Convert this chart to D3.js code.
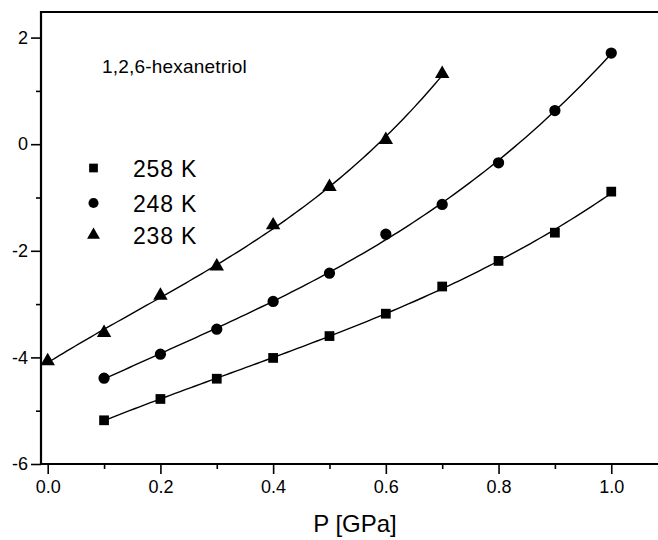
<!DOCTYPE html>
<html>
<head>
<meta charset="utf-8">
<script src="https://cdn.jsdelivr.net/npm/d3@7"></script>
<style>
  html, body { margin: 0; padding: 0; background: #fff; }
  svg { display: block; font-family: "Liberation Sans", Arial, sans-serif; }
</style>
</head>
<body>
<svg id="chart" width="658" height="540"></svg>
<script>
// Pressure (GPa) for each series
const pressure238 = [0.0, 0.1, 0.2, 0.3, 0.4, 0.5, 0.6, 0.7];
const pressure248 = [0.1, 0.2, 0.3, 0.4, 0.5, 0.6, 0.7, 0.8, 0.9, 1.0];
const pressure258 = [0.1, 0.2, 0.3, 0.4, 0.5, 0.6, 0.7, 0.8, 0.9, 1.0];

// log relaxation time values per isotherm
const values238 = [-4.07, -3.54, -2.84, -2.29, -1.52, -0.80, 0.08, 1.32];
const values248 = [-4.39, -3.94, -3.47, -2.95, -2.42, -1.69, -1.13, -0.35, 0.63, 1.71];
const values258 = [-5.18, -4.78, -4.40, -4.01, -3.60, -3.18, -2.67, -2.19, -1.66, -0.89];

const seriesLabels = ["258 K", "248 K", "238 K"];
const seriesSymbols = ["square", "circle", "triangle"];
const xTickValues = [0.0, 0.2, 0.4, 0.6, 0.8, 1.0];
const xMinorTicks = [0.1, 0.3, 0.5, 0.7, 0.9];
const yTickValues = [-6, -4, -2, 0, 2];
const yMinorTicks = [-5, -3, -1, 1];
const sampleName = "1,2,6-hexanetriol";
const xAxisTitle = "P [GPa]";

const series = [
  { label: seriesLabels[0], symbol: seriesSymbols[0], x: pressure258, y: values258 },
  { label: seriesLabels[1], symbol: seriesSymbols[1], x: pressure248, y: values248 },
  { label: seriesLabels[2], symbol: seriesSymbols[2], x: pressure238, y: values238 }
];

const svg = d3.select("#chart");
const plotLeft = 41, plotTop = 12, plotBottom = 464, plotRight = 660;

const x = d3.scaleLinear().domain([-0.0119, 1.0865]).range([plotLeft, plotRight]);
const y = d3.scaleLinear().domain([-6, 2.48]).range([plotBottom, plotTop]);

// polynomial least-squares fit (normal equations, Gaussian elimination)
function polyFit(xs, ys, deg) {
  const n = deg + 1;
  const A = d3.range(n).map(() => new Array(n + 1).fill(0));
  xs.forEach((xi, i) => {
    for (let r = 0; r < n; r++) {
      for (let c = 0; c < n; c++) A[r][c] += Math.pow(xi, r + c);
      A[r][n] += Math.pow(xi, r) * ys[i];
    }
  });
  for (let c = 0; c < n; c++) {
    for (let r = c + 1; r < n; r++) {
      const f = A[r][c] / A[c][c];
      for (let k = c; k <= n; k++) A[r][k] -= f * A[c][k];
    }
  }
  const b = new Array(n).fill(0);
  for (let r = n - 1; r >= 0; r--) {
    let s = A[r][n];
    for (let k = r + 1; k < n; k++) s -= A[r][k] * b[k];
    b[r] = s / A[r][r];
  }
  return t => b.reduce((acc, bk, k) => acc + bk * Math.pow(t, k), 0);
}

// fitted curves
const line = d3.line().x(d => x(d[0])).y(d => y(d[1]));
series.forEach(s => {
  const f = polyFit(s.x, s.y, 3);
  const x0 = d3.min(s.x), x1 = d3.max(s.x);
  const pts = d3.range(0, 101).map(i => { const t = x0 + (x1 - x0) * i / 100; return [t, f(t)]; });
  svg.append("path").attr("d", line(pts))
    .attr("fill", "none").attr("stroke", "#000").attr("stroke-width", 1.4);
});

// symbols
const symbolType = { square: d3.symbolSquare, circle: d3.symbolCircle, triangle: d3.symbolTriangle };
const symbolSize = { square: 95, circle: 100, triangle: 90 };
series.forEach(s => {
  svg.append("g").selectAll("path").data(s.x.map((xi, i) => [xi, s.y[i]]))
    .join("path")
    .attr("transform", d => `translate(${x(d[0])},${y(d[1])})`)
    .attr("d", d3.symbol().type(symbolType[s.symbol]).size(symbolSize[s.symbol]))
    .attr("fill", "#000");
});

// axes
const styleAxis = g => {
  g.select(".domain").remove();
  g.selectAll("text").attr("font-size", 18).attr("font-family", "Liberation Sans, Arial, sans-serif").attr("fill", "#000");
  g.selectAll("line").attr("stroke-width", 1.6).attr("stroke", "#000");
};
svg.append("g").attr("transform", `translate(0,${plotBottom})`)
  .call(d3.axisBottom(x).tickValues(xTickValues).tickFormat(d3.format(".1f")).tickSize(10).tickPadding(6))
  .call(styleAxis);
svg.append("g").attr("transform", `translate(0,${plotBottom})`)
  .call(d3.axisBottom(x).tickValues(xMinorTicks).tickSize(5).tickFormat(""))
  .call(styleAxis);

svg.append("g").attr("transform", `translate(${plotLeft},0)`)
  .call(d3.axisLeft(y).tickValues(yTickValues).tickFormat(d => String(d)).tickSize(10).tickPadding(3))
  .call(styleAxis);
svg.append("g").attr("transform", `translate(${plotLeft},0)`)
  .call(d3.axisLeft(y).tickValues(yMinorTicks).tickSize(5).tickFormat(""))
  .call(styleAxis);

// frame (left, top, bottom)
svg.append("path")
  .attr("d", `M${plotRight},${plotTop}H${plotLeft}V${plotBottom}H${plotRight}`)
  .attr("fill", "none").attr("stroke", "#000").attr("stroke-width", 2.2);

// sample name
svg.append("text").attr("x", 102).attr("y", 72.5).attr("font-size", 19)
  .attr("letter-spacing", 0.2).text(sampleName);

// legend
const legend = svg.append("g");
const legendY = [168, 203, 235];
series.forEach((s, i) => {
  legend.append("path")
    .attr("transform", `translate(93.5,${legendY[i]})`)
    .attr("d", d3.symbol().type(symbolType[s.symbol]).size(symbolSize[s.symbol] * 0.8))
    .attr("fill", "#000");
  legend.append("text").attr("x", 133).attr("y", legendY[i] + 8.5)
    .attr("font-size", 23).attr("letter-spacing", 0.8).text(s.label);
});

// x axis title
svg.append("text").attr("x", 355).attr("y", 531.5).attr("text-anchor", "middle")
  .attr("font-size", 24).text(xAxisTitle);
</script>
</body>
</html>
